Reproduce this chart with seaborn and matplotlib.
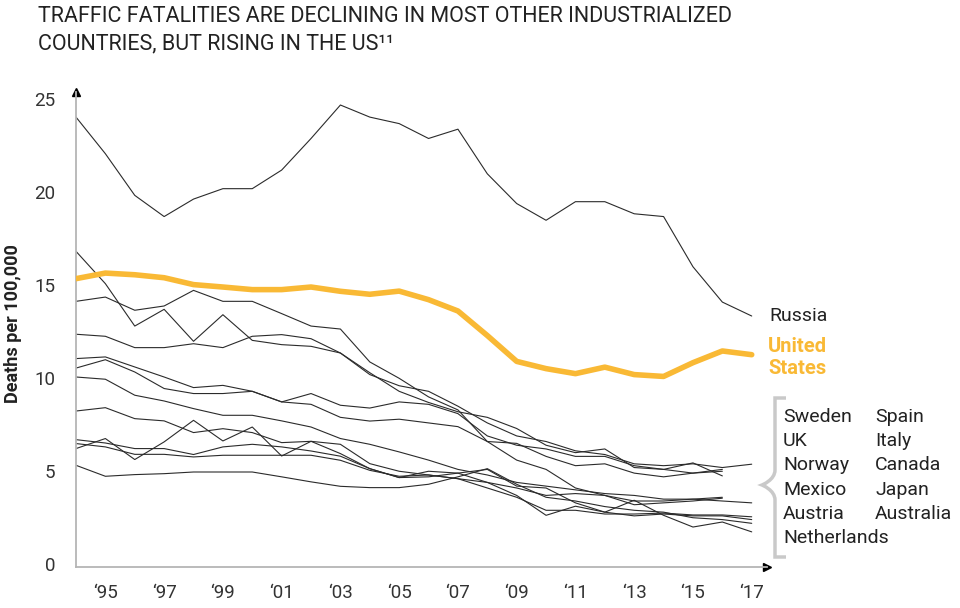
import numpy as np
import pandas as pd
import matplotlib
matplotlib.use('Agg')
import matplotlib.pyplot as plt
from matplotlib.path import Path
from matplotlib.patches import PathPatch
import seaborn as sns

nan = np.nan
years = list(range(1994, 2018))
tick_years = list(range(1995, 2018, 2))
tick_labels = ['\u2018' + str(y)[2:] for y in tick_years]

russia = [24.05, 22.08, 19.84, 18.7, 19.64, 20.2, 20.2, 21.2, 22.9, 24.7, 24.05, 23.7,
          22.9, 23.4, 21.0, 19.4, 18.5, 19.5, 19.5, 18.85, 18.7, 16.0, 14.1, 13.35]
united_states = [15.36, 15.66, 15.57, 15.41, 15.04, 14.91, 14.77, 14.77, 14.91, 14.68, 14.52, 14.69,
                 14.23, 13.62, 12.3, 10.91, 10.52, 10.25, 10.6, 10.2, 10.1, 10.84, 11.47, 11.27]
austria = [16.83, 15.09, 12.81, 13.71, 11.99, 13.42, 12.04, 11.81, 11.72, 11.36, 10.3, 9.3,
           8.7, 8.2, 7.9, 7.3, 6.4, 6.0, 6.2, 5.2, 5.1, 5.45, 4.75, nan]
spain = [14.14, 14.37, 13.66, 13.89, 14.73, 14.14, 14.14, 13.48, 12.81, 12.65, 10.88, 10.0,
         9.0, 8.3, 6.6, 5.6, 5.1, 4.1, 3.7, 3.2, 3.3, 3.4, 3.55, nan]
italy = [12.37, 12.26, 11.65, 11.65, 11.86, 11.65, 12.26, 12.35, 12.13, 11.36, 10.2, 9.6,
         9.3, 8.5, 7.6, 6.9, 6.6, 6.1, 5.9, 5.4, 5.3, 5.4, 5.2, 5.38]
canada = [11.06, 11.15, 10.61, 10.07, 9.5, 9.62, 9.3, 8.73, 9.18, 8.55, 8.4, 8.73,
          8.6, 8.1, 6.9, 6.4, 6.2, 5.8, 5.8, 5.3, 5.1, 4.9, 5.0, nan]
australia = [10.55, 11.0, 10.34, 9.45, 9.18, 9.18, 9.3, 8.73, 8.6, 7.9, 7.7, 7.8,
             7.6, 7.4, 6.6, 6.5, 5.8, 5.3, 5.4, 4.9, 4.7, 4.9, 5.1, nan]
japan = [10.07, 9.95, 9.09, 8.78, 8.37, 8.01, 8.01, 7.71, 7.38, 6.76, 6.45, 6.04,
         5.6, 5.1, 4.8, 4.4, 4.2, 4.0, 3.8, 3.7, 3.5, 3.5, 3.4, 3.3]
netherlands = [8.24, 8.42, 7.83, 7.71, 7.08, 7.29, 7.08, 6.54, 6.61, 6.45, 5.41, 5.0,
               4.8, 4.6, 4.4, 4.1, 3.7, 3.8, 3.7, 3.4, 3.4, 3.5, 3.6, nan]
sweden = [6.70, 6.52, 6.22, 6.22, 5.9, 6.31, 6.45, 6.31, 6.09, 5.81, 5.14, 4.66,
          4.7, 4.9, 4.4, 3.7, 2.63, 3.12, 2.8, 2.6, 2.7, 2.6, 2.6, 2.4]
uk = [6.49, 6.31, 5.91, 5.91, 5.77, 5.86, 5.86, 5.86, 5.86, 5.59, 5.05, 4.73,
      4.8, 4.6, 4.1, 3.6, 2.9, 2.9, 2.7, 2.7, 2.75, 2.65, 2.65, 2.55]
norway = [6.22, 6.76, 5.63, 6.58, 7.74, 6.63, 7.38, 5.82, 6.61, 5.95, 5.14, 4.66,
          5.0, 4.9, 5.1, 4.2, 4.1, 3.3, 2.8, 3.44, 2.63, 2.0, 2.27, 1.74]
mexico = [5.32, 4.73, 4.82, 4.87, 4.96, 4.96, 4.96, 4.7, 4.43, 4.19, 4.12, 4.12,
          4.3, 4.7, 5.14, 4.3, 3.6, 3.4, 3.1, 2.9, 2.8, 2.5, 2.4, 2.2]

others = {'Sweden': sweden, 'UK': uk, 'Norway': norway, 'Mexico': mexico,
          'Austria': austria, 'Netherlands': netherlands, 'Spain': spain,
          'Italy': italy, 'Canada': canada, 'Japan': japan, 'Australia': australia}
legend_col1 = ['Sweden', 'UK', 'Norway', 'Mexico', 'Austria', 'Netherlands']
legend_col2 = ['Spain', 'Italy', 'Canada', 'Japan', 'Australia']

rows = []
for name, vals in {'Russia': russia, 'United States': united_states, **others}.items():
    for y, v in zip(years, vals):
        rows.append({'country': name, 'year': y, 'deaths': v})
df = pd.DataFrame(rows).dropna()

sns.set_style('white')
plt.rcParams['font.family'] = ['Roboto', 'DejaVu Sans']

W, H = 960, 608
fig = plt.figure(figsize=(W / 100, H / 100), dpi=100)
ax = fig.add_axes([76 / W, 41 / H, (767 - 76) / W, (567 - 92) / H])

US_COLOR = '#F9B935'
LINE_COLOR = '#2b2b2b'

for name in list(others) + ['Russia']:
    sns.lineplot(data=df[df['country'] == name], x='year', y='deaths', ax=ax,
                 color=LINE_COLOR, linewidth=0.8, legend=False)
sns.lineplot(data=df[df['country'] == 'United States'], x='year', y='deaths', ax=ax,
             color=US_COLOR, linewidth=4, legend=False, zorder=5)

ax.set_xlim(1994, 2017.52)
ax.set_ylim(-0.15, 25.4)
ax.set_xticks(tick_years)
ax.set_xticklabels(tick_labels)
ax.set_yticks([0, 5, 10, 15, 20, 25])
ax.tick_params(axis='both', length=0, labelsize=13.5, labelcolor='#333333')
ax.tick_params(axis='y', pad=15)
ax.tick_params(axis='x', pad=12)
ax.set_xlabel('')
ax.set_ylabel('')
ax.grid(False)
for side in ['top', 'right']:
    ax.spines[side].set_visible(False)
for side in ['left', 'bottom']:
    ax.spines[side].set_color('#b5b5b5')
    ax.spines[side].set_linewidth(1.3)

# axis arrows
ax.plot(1, 0, marker='>', color='black', markersize=6, transform=ax.transAxes, clip_on=False)
ax.plot(0, 1, marker='^', color='black', markersize=6, transform=ax.transAxes, clip_on=False)

# title
fig.text(38 / W, 1 - 6 / H,
         'TRAFFIC FATALITIES ARE DECLINING IN MOST OTHER INDUSTRIALIZED\nCOUNTRIES, BUT RISING IN THE US\u00b9\u00b9',
         ha='left', va='top', fontsize=15.5, color='#222222', linespacing=1.4)

fig.text(13 / W, 1 - 324 / H, 'Deaths per 100,000', rotation=90, ha='center', va='center',
         fontsize=13, fontweight='bold', color='#222222')

# line labels
fig.text(769 / W, 1 - 316 / H, 'Russia', ha='left', va='center', fontsize=14, color='#222222')
fig.text(768 / W, 1 - 357 / H, 'United\nStates', ha='left', va='center', fontsize=14.5,
         fontweight='bold', color=US_COLOR, linespacing=1.2)

for i, name in enumerate(legend_col1):
    fig.text(783 / W, 1 - (417 + 24.2 * i) / H, name, ha='left', va='center',
             fontsize=14, color='#222222')
for i, name in enumerate(legend_col2):
    fig.text(875 / W, 1 - (417 + 24.2 * i) / H, name, ha='left', va='center',
             fontsize=14, color='#222222')

# bracket
def fp(x, y):
    return (x / W, 1 - y / H)

verts = [fp(786, 398), fp(775, 398), fp(775, 470),
         fp(775, 480), fp(762, 485), fp(762, 485),
         fp(762, 485), fp(775, 490), fp(775, 500),
         fp(775, 557), fp(786, 557)]
codes = [Path.MOVETO, Path.LINETO, Path.LINETO,
         Path.CURVE4, Path.CURVE4, Path.CURVE4,
         Path.CURVE4, Path.CURVE4, Path.CURVE4,
         Path.LINETO, Path.LINETO]
fig.patches.append(PathPatch(Path(verts, codes), transform=fig.transFigure, fill=False,
                             edgecolor='#c9c9c9', linewidth=2.5))

fig.savefig('out.png', dpi=100)
plt.close(fig)
